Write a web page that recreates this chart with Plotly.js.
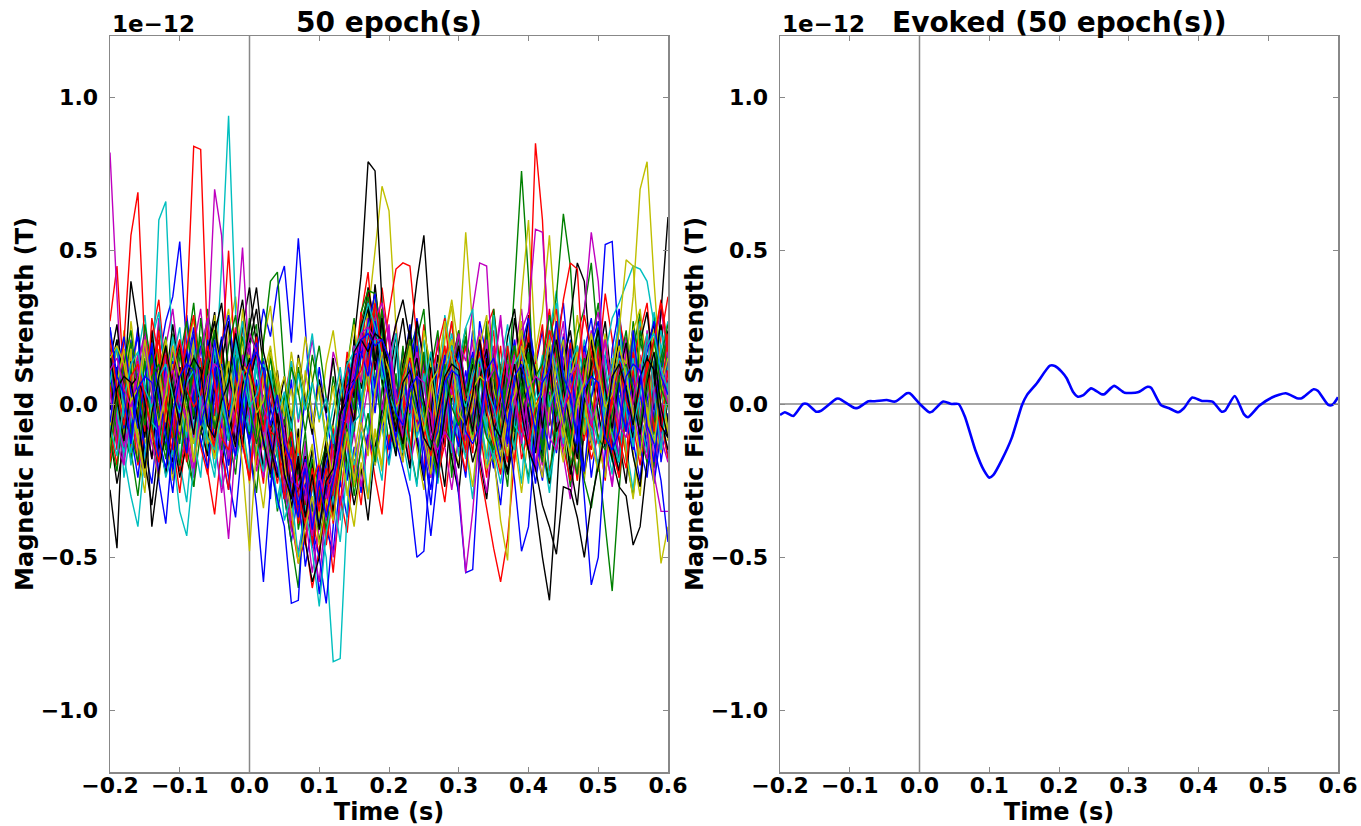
<!DOCTYPE html>
<html>
<head>
<meta charset="utf-8">
<script src="https://cdn.plot.ly/plotly-3.0.1.min.js"></script>
<style>html,body{margin:0;padding:0;background:#fff;}#chart{width:1361px;height:826px;}</style>
</head>
<body>
<div id="chart"></div>
<script>
// Sample times of the epochs (hundredths of a second)
const epochTimesCs = [-20,-19,-18,-17,-16,-15,-14,-13,-12,-11,-10,-9,-8,-7,-6,-5,-4,-3,-2,-1,0,1,2,3,4,5,6,7,8,9,10,11,12,13,14,15,16,17,18,19,20,21,22,23,24,25,26,27,28,29,30,31,32,33,34,35,36,37,38,39,40,41,42,43,44,45,46,47,48,49,50,51,52,53,54,55,56,57,58,59,60];

// 50 single-epoch traces, values in hundredths of 1e-12 T
const epochValues = [
[8,-14,5,21,-3,-22,-9,14,27,35, 53,18,-12,-4,19,7,-16,-28,-6,11, 2,-19,-7,-31,6,-12,8,-20,3,-9, 12,-4,-18,5,-11,-23,-6,-15,9,-3, 14,-8,11,26,4,-13,-33,-10,15,6, -17,2,24,13,-9,-21,5,17,-2,9, 28,12,-15,-6,20,33,8,-11,3,-24, -7,16,4,-19,10,25,-3,-14,7,19, 1],
[-21,-6,12,-15,-30,-9,17,4,-11,23, 10,-18,-27,6,31,15,-4,-20,8,-12, 19,26,-8,-16,-35,-22,-13,-41,-28,-36, -19,-44,-25,-7,12,28,-3,34,21,7, -14,9,-6,18,25,-10,-23,-2,14,-17, 5,22,11,-8,27,16,-12,3,38,76, 41,-6,-19,8,24,-9,-27,-14,6,20, 33,10,-5,15,-18,-30,-11,4,29,13, -8],
[27,45,6,-17,12,-5,22,34,9,-13, -29,-8,16,3,-22,-36,-14,10,25,-3, 14,-11,-26,4,-9,-31,-17,-34,-46,-20, -28,-12,-37,-6,17,3,29,43,16,38, 20,-7,12,-15,4,26,9,-19,-32,-11, 8,19,-5,-21,-34,-47,-58,-44,-18,7, 23,-6,15,31,12,-14,-25,2,18,-9, 13,36,21,-4,-17,9,28,14,-8,22, 35],
[-15,11,-24,-8,16,29,5,60,66,14, -19,-32,-7,21,4,-13,-27,9,18,-6, -23,3,15,-11,-34,-19,-5,-28,-40,-14, -33,-21,-9,-38,-16,12,-4,24,33,15, -2,19,-12,-25,8,21,-6,-17,11,27, 9,-14,-31,-4,17,2,-20,6,-9,-26, 5,16,-3,23,37,11,-10,-22,-5,14, 24,-8,-19,3,-14,-28,-6,11,30,18, -2],
[82,37,-11,6,24,-2,-18,-6,19,31, 12,-9,-24,4,17,-12,-29,-15,8,26, 13,-4,-21,9,-17,2,14,-6,8,21, 5,-3,17,9,-14,-26,-8,6,-19,-3, 10,27,-6,-20,-9,13,-1,22,-14,-28, -10,7,21,-16,-5,12,29,3,-13,18, 6,-21,-8,15,-2,-17,-31,-12,9,24, 4,-15,-26,-7,18,8,-10,23,12,-5, 15],
[13,-8,24,7,-16,-29,2,18,-4,-21, -10,16,28,-1,-15,11,-6,23,35,14, -3,-18,-34,-12,8,-24,-9,-30,-17,-37, -22,-45,-15,3,-10,12,5,29,50,71, 63,25,-3,19,-11,-24,7,-15,21,32, 1,-13,-27,-5,14,30,10,-19,6,27, 11,-7,-20,4,-12,19,-4,-25,-9,15, 22,-11,3,26,9,-16,-30,-2,13,-7, 16],
[-9,-26,-13,14,3,-19,-33,-12,7,26, 9,-5,21,-10,-2,16,-20,-8,3,25, 38,19,-4,-14,6,-22,-9,-34,-27,-15, -37,-24,-6,8,-3,21,42,79,76,33, 6,23,-8,-21,11,-5,17,-12,-27,2, 20,-11,4,-18,-31,-9,13,-4,18,8, 29,-6,-17,12,26,-3,-14,9,-23,-10, 14,27,5,-12,-26,3,-8,16,-2,11, 24],
[19,-4,-17,8,25,2,-11,13,-6,-23, 3,29,10,-14,-3,22,-9,-24,-37,-12, 7,16,31,22,38,45,20,54,25,-8, -27,-13,-35,4,-9,17,-2,11,26,-6, -19,5,-14,9,28,13,-7,-20,4,17, -11,-24,3,15,-6,-18,-33,-8,16,5, -10,12,24,-3,-16,2,21,-7,-22,-4, 10,-13,18,31,6,-12,-25,1,14,-5, -17],
[4,21,-9,-18,-5,14,-7,26,11,-12, -3,17,33,8,-16,-6,13,-10,-23,2, -14,-29,-3,18,-11,-25,-41,-17,-33,-22, -45,-30,-12,-27,9,-4,26,13,32,18, -5,10,-17,-6,21,31,-2,-15,7,-24, 12,25,-8,-19,5,16,-12,-27,4,20, -6,11,-15,19,35,62,45,8,-11,14, 25,-4,-18,6,-8,17,30,-3,-20,-9, 5],
[-17,6,20,55,69,18,-12,3,16,-7, -22,-9,12,-4,24,9,-15,-28,5,13, -6,-20,8,-14,-3,-21,-38,-52,-44,-60, -47,-35,-55,-30,-42,-18,-33,-9,-24,-36, -10,-15,-2,20,-10,-22,8,-6,14,27, -3,-16,11,-8,-24,3,19,-11,5,-18, -9,13,26,-4,-15,7,-9,-25,12,21, 3,-12,9,28,16,-7,-20,-4,11,-13, 2],
[11,-9,3,-20,-7,15,-4,-18,6,22, 9,-14,-2,19,27,5,45,94,30,-9, -22,2,13,-15,-31,-19,-36,-27,-14,-42, -21,-33,-9,-23,-4,11,24,6,17,-8, -20,-5,12,-9,23,8,-13,-26,-7,9, -17,4,16,-3,-21,-9,12,26,8,-11, 18,-2,-14,-29,-8,6,-17,2,21,10, -6,15,-9,-22,-1,14,27,9,-13,3, 19],
[-14,7,-3,19,-9,-22,4,28,13,-6, -19,-10,12,-5,20,70,55,8,-13,2, 17,-7,-24,-11,3,-16,-38,-29,-21,-47, -35,-18,-30,-6,10,-3,19,35,21,9, 26,-8,-19,5,-12,15,2,-21,-9,13, 24,-4,10,-16,-29,-7,6,-14,17,31, 8,-11,-24,1,14,27,-2,-17,5,-8, 18,-13,-27,-6,9,22,-5,11,-19,-4, 14],
[5,18,-6,27,10,-13,-4,16,-9,-25, -11,8,-19,12,3,-16,20,31,7,-10, -26,-2,11,-18,10,-4,17,3,22,8, -6,13,24,6,-12,-27,-15,-30,-9,-22, 11,-9,16,4,-15,-28,-6,9,21,34, 18,56,25,-4,-17,9,-6,14,-13,-29, -10,13,3,20,-7,-19,8,29,11,-3, -22,-8,15,2,-16,-31,-9,10,25,-1, -12],
[-28,-47,4,40,25,-3,-18,7,19,-9, -24,-13,3,-7,17,30,5,-11,22,34, 13,-6,-21,-2,11,-14,-29,-8,-37,-19, -32,-11,-26,3,-8,21,5,14,39,18, -4,15,28,9,-12,-25,-3,16,-6,-18, -29,-5,9,20,-4,-16,11,2,28,12, -9,-21,-2,13,-10,3,-20,-33,-8,17, 6,-14,8,21,-3,-17,-27,-5,12,26, 9],
[-17,2,13,-9,-24,-3,16,5,-14,-29, -6,12,25,-2,-11,9,22,-5,-18,7, 19,-8,3,-21,-12,-30,-45,-28,-53,-39, -62,-41,-48,-25,-37,-14,-29,-8,-20,-4, -15,-1,18,6,-10,-23,-7,13,3,-12, -4,11,-6,27,15,-8,-19,7,21,2, -11,-26,-9,14,-3,10,-13,1,19,6, 18,52,53,17,-6,-15,8,-4,11,-19, -3],
[9,-11,7,20,-4,15,-8,-23,-2,17, 6,-14,-27,-9,13,24,3,-12,8,21, -4,-17,-6,-24,-15,-30,-45,-60,-28,-39, -22,-13,-31,-18,2,-10,16,28,9,-7, 11,-5,19,-14,-26,-6,11,24,-3,-15, 9,22,-9,13,-2,-19,-7,16,5,-13, -24,-4,14,-7,20,-10,6,23,31,46, 19,-3,-15,8,-6,27,12,-8,-21,4, 17],
[6,-15,18,-2,-20,-9,11,24,-5,-17, -8,30,84,83,18,-12,7,-4,16,-13, -25,-6,14,-1,9,-17,-30,-21,-44,-36, -50,-27,-15,-33,-9,5,17,37,12,24, 1,-14,6,-18,15,-3,-11,-24,-9,12, 20,-2,-16,9,25,31,10,-6,-19,4, 16,-7,3,-22,-10,13,-3,19,-8,-15, 21,5,-12,-24,3,14,24,33,8,-5, -18],
[-12,9,-4,12,-9,4,21,30,7,-10, -20,5,-8,14,-5,-21,-9,11,-3,6, -11,16,-6,-19,2,-12,-31,-22,-16,-27, -38,-50,-84,-83,-35,4,-6,16,2,25, 13,-9,4,22,-11,-3,10,-7,29,15, -6,-18,7,-4,11,-15,-26,-10,3,19, -2,-13,12,20,33,9,-4,-17,-2,15, 7,-10,-23,2,-9,21,5,-12,14,24, 10],
[14,-7,-19,5,12,24,3,-10,11,-4, 9,-12,-23,3,-6,7,-14,-3,20,51, 12,-9,10,-14,-23,-4,-26,-36,-12,-45, -58,-33,-9,-21,8,-5,19,8,33,14, -2,-13,9,-6,17,-11,-22,2,-10,19, 3,-12,14,24,-3,19,-1,-14,8,-6, 11,-9,-20,4,-7,23,12,-6,2,21, 30,7,-4,-17,8,-5,16,-11,-24,-3, 11],
[-9,12,-3,18,-10,-22,4,13,-6,15, -8,11,23,-4,6,-17,-8,14,-2,31, 11,-3,-15,9,-6,2,-22,-14,-29,-37, -26,-43,-20,-6,14,-3,29,10,36,17, 5,-9,14,22,-3,-14,10,-4,19,-11, -20,2,-10,-1,-21,-16,-38,-51,-3,35, 60,18,-6,-15,7,-2,14,-12,-25,-3, 10,23,2,-10,13,24,31,9,-7,-16, 5],
[14,26,3,-9,10,-2,21,-11,-23,-6, 12,3,16,-8,-17,4,13,27,2,-13, 9,23,-4,-10,-4,9,-7,16,2,-10, 8,-3,15,-6,-19,-33,-21,-38,-14,-2, 16,26,34,21,40,55,22,-2,-14,9, 17,-6,-19,-10,3,12,-5,19,-9,1, 21,-3,-14,-26,-5,14,24,6,-10,13, 20,-1,-13,-22,6,-8,20,30,9,-5, -15],
[10,-3,12,-8,6,-15,-26,-4,13,5, 21,-7,9,19,3,-12,6,-20,-3,16, -14,-33,-58,-27,-8,-30,-24,-37,-20,-41, -50,-65,-40,-12,-25,11,-3,20,5,29, 10,-8,3,21,-4,-15,-28,-9,14,2, 17,-6,11,-13,23,8,-9,-18,6,15, -2,-14,-25,-4,9,22,-5,-16,8,19, 27,6,-8,-19,4,13,-3,-14,-26,-9, 8],
[18,5,-14,9,-3,26,12,-7,-18,4, 15,27,3,-10,11,-5,20,-8,-16,9, 28,14,-5,-17,7,-16,-9,-24,-33,-18, -27,-14,-36,-21,-3,17,1,14,30,7, -6,-15,9,-4,16,-12,-24,3,-9,21, 11,-2,13,-11,26,-6,-18,4,-9,24, 14,-7,-19,3,-11,6,-20,-12,-25,-34, -18,-40,-61,-28,2,-9,21,10,-6,13, 22],
[-7,-20,5,16,-6,22,11,-3,21,-12, -4,-19,9,15,-5,-14,15,50,12,-9, 7,20,-6,-14,-26,-11,-30,-19,-41,-27, -33,-17,-28,-4,11,-2,24,9,27,16, 30,44,46,45,21,-3,-16,8,19,-7, -12,-22,6,-5,13,24,-9,4,18,-8, -15,10,-3,21,31,4,-13,8,-5,-18, -10,-25,3,12,-8,17,-6,9,21,34, 19],
[17,-2,-16,-6,12,-9,20,5,-12,14, 25,2,-11,-24,3,-8,13,-4,-18,-10, -3,15,-5,-20,6,-19,-28,-15,-37,-25, -41,-22,-31,-8,6,19,3,-10,21,11, -4,-17,7,-6,17,-2,-21,-9,12,23, 4,-10,14,-3,-18,-4,-22,6,19,8, 13,-9,2,23,-6,4,-15,19,9,-12, 2,16,28,33,39,45,44,40,26,5, -9],
[-13,4,17,-2,-14,-24,1,13,-5,11, -10,7,19,31,8,-6,-17,6,-7,11, -4,-22,-11,5,-10,-27,-41,-48,-36,-55, -40,-28,-50,-33,-22,-9,-27,-12,2,14, 24,-3,-13,10,2,16,-10,-22,-1,12, 20,14,31,46,45,6,-9,13,-1,17, -10,-20,4,-6,25,14,-7,10,-2,-12, -3,-23,-9,11,22,-2,-14,9,19,31, 15],
[22,3,-11,10,-1,18,-12,-25,-2,9, 21,-6,-13,10,-3,29,10,-5,-16,4, 16,-9,-2,-23,-11,-26,-17,-33,-22,-13, -38,-18,-7,-19,12,26,7,32,14,22, -3,-14,5,17,-9,-2,-22,-10,11,2, 13,-9,-1,21,-7,-13,9,19,-3,14, 2,17,30,55,22,-6,-17,8,-4,15, -12,-24,-3,10,-7,14,1,-10,21,9, -11],
[-2,12,-7,14,1,-11,24,6,-9,-19, 3,17,-5,12,-13,9,21,-2,-12,10, 20,31,12,-8,-1,-25,-18,-37,-27,-46, -30,-16,-25,-5,14,2,22,38,25,8, -6,-17,9,-3,27,14,-7,-18,4,13, 23,2,-10,12,-4,8,-14,-23,-11,7, -15,-33,-50,-64,-31,9,27,46,40,12, -3,-14,5,16,-2,-11,8,19,26,7, -6],
[25,6,-8,13,22,-4,3,-18,-5,14, -4,-16,5,-9,21,11,-8,9,22,-2, -11,8,-13,-21,-31,-40,-65,-64,-27,-41, -19,-32,-12,-24,6,-8,26,15,-3,20, 9,-12,-21,-30,-50,-48,-17,3,16,-5, -14,7,17,-3,19,5,-15,8,-6,11, -3,-22,-11,10,-4,20,1,-10,17,28, 8,-5,-16,7,-9,10,-14,-24,-2,12, 20],
[-11,-22,1,12,-6,14,-9,10,22,-1, -13,9,-4,28,8,-7,-15,7,16,-3, -10,6,-7,10,-14,3,-9,12,-2,16, 4,-11,9,-5,-22,-7,30,37,36,23, 10,-3,-12,7,18,-2,-13,-22,3,12, 24,1,-11,10,-3,31,10,-4,-15,4, 16,-2,-13,-25,-1,11,-8,13,-9,9, 22,3,-9,-19,5,-6,24,12,-10,11, 21],
[9,19,-3,-12,8,-6,28,15,-4,-16, 7,-5,11,-14,-23,-2,12,-8,14,-9, 3,22,-1,-10,-22,-18,-30,-11,-35,-26, -19,-46,-29,-16,4,-7,23,4,17,31, 11,-2,-13,7,-6,11,-3,-23,-13,8, 22,3,-9,12,-1,13,-7,-19,5,16, 20,85,60,12,-9,2,20,-4,-12,10, 19,-2,-15,-24,-2,11,-5,14,-9,2, 23],
[14,-3,-17,-30,-40,-16,-1,11,-5,12, 0,-11,20,-3,-14,-24,2,-9,21,3, -9,12,-4,11,-11,-2,14,-5,9,23, 4,-13,-1,12,-6,-20,-9,-31,-14,-25, 6,-7,-16,8,-5,10,-13,-25,2,13, 21,-2,-12,9,-9,29,6,-5,-15,10, 7,-5,3,-24,-12,11,-3,14,-10,2, 23,4,-10,-19,3,15,-4,-16,6,18, 27],
[17,-6,-14,5,16,-2,-13,-23,2,-9, 21,10,-11,9,-3,8,-20,-44,-13,11, 20,-3,-11,-22,2,-26,-18,-36,-30,-42, -27,-38,-13,-2,-12,19,7,28,17,-2, 12,-11,9,-3,19,-13,-24,-2,11,3, 14,-8,10,-6,21,-9,-20,4,-5,24, 30,57,56,16,-3,-14,7,-7,17,-2, -22,-1,11,-9,19,3,-7,24,3,-11, -19],
[-15,5,-4,18,-12,-24,-2,11,-6,13, 2,-9,21,10,-13,-4,-11,13,-2,22, 3,-8,21,32,9,-4,5,-16,11,-3, -20,-8,6,-14,-28,-40,-19,-31,-8,-20, 15,-9,-19,4,-5,24,12,-10,2,21, 11,-3,-12,19,29,5,-5,-17,8,-2, 9,-14,-24,-1,12,21,-6,4,-10,22, 10,-11,7,17,13,35,70,79,40,8, -9],
[11,21,-3,-11,9,-5,19,-13,-22,2, 12,-4,14,-9,11,23,33,10,-3,-14, 7,17,-2,-14,-24,-5,-31,-28,-17,-43, -31,-12,-35,-20,4,-6,24,31,11,27, 5,-8,13,24,2,-10,12,-2,10,-12, -21,2,13,-6,15,-10,2,22,31,9, -3,-16,5,17,-9,-2,-23,-11,12,21, 2,-9,-18,-27,-30,-46,-40,-19,5,30, 61],
[9,19,-2,-11,10,-1,20,-25,-39,-12, 8,18,1,-12,-21,3,13,-5,14,-10, 11,20,-1,-12,-21,-31,-12,-37,-26,-45, -30,-19,-9,-24,13,5,16,26,36,13, 1,-11,9,-2,19,-12,-23,-1,11,-10, -30,-55,-54,-16,7,-3,9,-13,6,19, 28,8,-5,-15,7,-4,18,-13,-22,2, 11,-5,13,1,-9,24,3,-9,-19,5, 15],
[16,-1,13,-9,-19,3,16,-3,-15,5, 18,-3,15,-8,13,24,-2,-10,10,22, 11,-11,20,40,43,10,-16,-25,-9,-35, -28,-41,-22,-11,9,-2,27,35,14,31, 9,-4,-15,6,-3,17,-14,-24,-2,11, 22,2,-10,11,-2,12,-11,9,19,-1, 17,-5,-15,7,-4,10,-13,-23,-1,12, 21,3,-9,12,24,3,-10,-19,4,15, 26],
[-19,2,13,-3,14,-9,11,21,-1,-11, 9,19,29,6,-6,-16,8,-2,9,-13, -24,-1,11,-9,-11,-31,-14,-39,-21,-46, -26,-35,-8,-18,13,10,30,12,32,15, 3,-9,11,21,-1,-11,9,19,28,6, -6,-15,8,17,-2,-13,-23,-1,12,21, 2,-10,12,24,15,34,46,44,6,-9, 11,21,1,-11,-21,2,13,23,3,-9, 11],
[7,19,-4,-16,3,21,-6,-9,-24,-15, -35,-43,-20,4,-7,18,5,-12,14,27, 1,-13,-22,8,-17,-38,-29,-50,-33,-48, -66,-42,-30,-45,-21,-6,-3,25,33,8, 12,23,-5,-14,-27,6,17,-2,9,-16, 14,25,31,2,-10,-18,8,20,-7,-11, -26,3,16,-1,6,-13,13,19,-4,-8, -21,5,12,28,-2,-14,9,23,4,-15, 7],
[4,-13,-20,-2,13,22,6,-11,9,19, 2,-4,6,17,28,7,-5,-18,-4,16, 8,-14,-2,-21,-9,-15,-34,-23,-28,-43, -22,-37,-26,-5,-6,14,23,8,28,33, 21,3,-11,8,17,1,-3,-20,-7,12, 23,4,-9,11,19,-2,-13,6,16,-1, -13,-22,-3,10,20,5,-8,9,30,56, 40,8,-8,11,20,3,-8,-18,4,12, -1],
[-10,7,18,-1,-12,-22,-2,10,21,3, -9,10,22,5,-7,-18,1,14,-1,-20, -48,-14,9,19,2,9,-4,15,3,-8, 6,-12,-25,-10,-30,-16,-3,11,-20,-7, 3,-10,8,19,-2,-11,-23,-1,12,21, 4,-8,10,22,3,-9,-17,3,13,24, 4,-7,8,19,2,-11,9,17,1,-12, -22,-3,10,24,47,45,13,-3,-13,6, 15],
[16,2,-12,6,9,1,-40,-22,-9,10, 20,2,-10,8,17,27,8,-4,-14,6, 15,-1,-12,-23,-3,-14,-34,-19,-45,-58, -50,-27,-24,-4,6,8,25,33,14,28, 9,-4,-13,6,15,1,-11,-21,-3,9, 19,3,-9,8,18,-1,-12,-22,-2,9, 20,11,-8,9,21,5,-7,-18,1,13, 24,5,-8,9,20,2,-10,7,17,-1, -11],
[-6,11,22,4,-8,9,19,2,-10,-21, -1,11,23,5,-7,10,19,29,10,-2, -13,3,14,-1,-11,-21,-29,-37,-18,-33, -39,-27,-23,-11,5,16,17,9,27,13, 1,-11,5,15,-1,-11,-15,-9,9,19, 5,-7,9,19,2,-9,-19,-7,-25,-48, -40,-10,9,19,4,-7,10,-2,-30,-59, -50,-15,7,17,3,-9,7,17,27,9, 3],
[-16,1,13,24,5,-7,9,13,3,-9, -20,-2,11,22,4,-8,2,19,29,11, -1,-13,-3,15,1,-7,12,4,-9,7, 19,2,-12,-24,-8,-30,-14,-3,-19,5, 13,-5,11,21,5,-1,-17,-5,13,-1, -7,3,15,-1,-11,-15,-3,9,19,5, -1,9,13,29,17,-1,-13,3,15,1, -11,-15,-3,9,13,5,-7,9,21,5, -1],
[21,5,-7,9,13,3,-9,-19,-1,11, 21,5,-1,3,19,7,-11,-15,-3,9, 13,3,-9,7,-11,-17,-9,-29,-39,-21, -35,-21,-39,-15,-3,7,11,21,33,17, 11,-1,9,15,5,-7,-17,-5,7,17, 13,1,5,21,11,-7,3,19,3,-9, -13,-1,5,21,11,-1,3,13,29,17, 5,-13,3,15,1,-5,5,11,21,33, 17],
[-7,-17,1,13,17,5,-1,9,13,3, -3,7,11,1,-11,-15,-3,9,19,11, -1,3,13,9,-3,4,-8,10,-2,7, -5,2,-13,3,13,17,23,33,25,15, 3,-3,7,11,1,-5,-15,-3,9,19, 5,-1,9,15,5,-1,-11,1,13,17, 7,1,5,21,11,-1,9,13,3,-3, -13,-1,5,15,11,-7,3,19,23,11, 5],
[11,15,5,-1,9,19,3,-9,7,11, 1,-5,-21,-3,9,13,11,-7,3,13, 23,17,-1,-7,3,-9,-25,-27,-19,-39, -23,-31,-23,-11,5,9,23,25,21,21, 15,3,-7,5,9,7,-11,-15,-9,-13, -27,-55,-35,-9,7,11,27,9,3,-13, 5,9,7,-11,-15,-3,9,13,5,-7, 3,21,5,-7,-11,1,13,-7,-23,-35, -35],
[15,19,13,1,5,21,5,-7,3,19, 9,-3,-19,-7,5,21,11,-7,3,13, 9,-3,1,17,7,-20,-35,-52,-40,-30, -46,-31,-38,-22,-9,-25,-6,-17,4,17, 11,-1,3,19,3,-9,7,11,27,15, -3,-7,5,9,7,-11,-21,-3,3,19, 11,-1,3,21,5,-7,-17,1,7,23, 11,-1,3,19,9,-3,-17,-1,-27,-52, -40],
[-11,5,9,7,-5,-21,-3,9,19,5, -7,9,15,11,-7,-11,1,7,23,11, 25,38,17,7,-5,-23,-31,-17,-37,-23, -41,-25,-21,-3,1,17,21,17,23,21, 3,-9,7,11,1,-11,-15,-3,9,13, 11,-7,3,21,5,-7,-11,1,13,-3, -15,-21,-33,-40,-49,-27,-28,-37,-50,-32, -21,-9,9,13,5,-7,9,15,11,-7, -11],
[25,9,3,-13,5,9,7,-11,-21,-3, 9,13,11,-7,3,21,5,-7,-17,1, 13,17,11,-7,3,-13,-19,-33,-21,-41, -25,-37,-25,-13,3,7,21,23,19,21, 15,-3,-7,5,9,-23,-43,-22,7,11, 9,-9,-13,-7,11,15,5,-7,9,13, 3,-9,7,11,27,9,3,-13,5,9, 7,-11,-15,-9,9,13,11,-7,-13,-25, -45]
];

// Evoked (average) response: times in ms, values in thousandths of 1e-12 T
const evokedTimesMs = [-200,-193,-181,-167,-161,-148,-142,-119,-115,-93,-88,-73,-64,-47,-35,-18,-14,1,14,18,34,46,56,65,80,92,100,106,118,132,147,154,168,187,194,204,211,220,227,235,246,261,265,279,294,313,327,332,346,358,371,379,391,405,420,433,438,452,465,471,487,506,525,541,548,565,571,586,592,600];
const evokedValues = [-36,-27,-39,0,0,-25,-23,17,17,-13,-12,9,9,13,8,35,35,-1,-27,-25,8,0,0,-41,-150,-215,-240,-231,-182,-112,-3,29,67,125,124,105,84,40,24,29,51,32,32,59,37,38,56,53,-3,-14,-27,-14,21,10,8,-25,-22,26,-33,-43,-6,22,35,19,19,48,43,-3,-3,22];

const xTickVals = [-0.2,-0.1,0.0,0.1,0.2,0.3,0.4,0.5,0.6];
const yTickVals = [-1.0,-0.5,0.0,0.5,1.0];
const colorCycle = ['#0000ff','#008000','#ff0000','#00bfbf','#bf00bf','#bfbf00','#000000'];

const tSec = epochTimesCs.map(v => v / 100);
const traces = epochValues.map((vals, i) => ({
  type: 'scatter', mode: 'lines',
  x: tSec.slice(0, vals.length), y: vals.map(v => v / 100),
  xaxis: 'x', yaxis: 'y',
  line: {color: colorCycle[i % colorCycle.length], width: 1.4},
  hoverinfo: 'skip', showlegend: false
}));
traces.push({
  type: 'scatter', mode: 'lines',
  x: evokedTimesMs.map(v => v / 1000), y: evokedValues.map(v => v / 1000),
  xaxis: 'x2', yaxis: 'y2',
  line: {color: '#0000ff', width: 2.6, shape: 'spline', smoothing: 0.6},
  showlegend: false
});

const FONT = 'DejaVu Sans, Liberation Sans, sans-serif';
const W = 1361, H = 826;
const M = {l: 110, r: 23, t: 36, b: 54};
const PW = W - M.l - M.r;

function xAxis(dom, anchor) {
  return {
    domain: dom, anchor: anchor, range: [-0.2, 0.6],
    tickvals: xTickVals, tickformat: '.1f',
    ticks: 'inside', ticklen: 5, tickwidth: 1, tickcolor: '#888',
    showline: true, linecolor: '#888', linewidth: 1.5, mirror: 'ticks',
    showgrid: false, zeroline: false, ticklabelstandoff: -7,
    tickfont: {family: FONT, size: 22, color: '#000', weight: 'bold'},
    title: {text: 'Time (s)', font: {family: FONT, size: 24, color: '#000', weight: 'bold'}, standoff: 0}
  };
}
function yAxis(anchor) {
  return {
    domain: [0, 1], anchor: anchor, range: [-1.2, 1.2],
    tickvals: yTickVals, tickformat: '.1f',
    ticks: 'inside', ticklen: 5, tickwidth: 1, tickcolor: '#888',
    showline: true, linecolor: '#888', linewidth: 1.5, mirror: 'ticks',
    showgrid: false, zeroline: false, ticklabelstandoff: 6,
    tickfont: {family: FONT, size: 22, color: '#000', weight: 'bold'},
    title: {text: 'Magnetic Field Strength (T)', font: {family: FONT, size: 24, color: '#000', weight: 'bold'}, standoff: 0}
  };
}

const shapes = [];
[['x', 'y'], ['x2', 'y2']].forEach(([xa, ya]) => {
  shapes.push({type: 'line', layer: 'below', xref: xa, yref: ya + ' domain', x0: 0, x1: 0, y0: 0, y1: 1, line: {color: '#888', width: 1.5}});
  shapes.push({type: 'line', layer: 'below', xref: xa + ' domain', yref: ya, x0: 0, x1: 1, y0: 0, y1: 0, line: {color: '#888', width: 1.5}});
});

const annFont = {family: FONT, color: '#000', weight: 'bold'};
const annotations = [
  {xref: 'x domain', yref: 'y domain', x: 0, y: 1, xanchor: 'left', yanchor: 'bottom', showarrow: false, text: '1e\u221212', font: Object.assign({size: 23}, annFont), yshift: -3},
  {xref: 'x2 domain', yref: 'y2 domain', x: 0, y: 1, xanchor: 'left', yanchor: 'bottom', showarrow: false, text: '1e\u221212', font: Object.assign({size: 23}, annFont), yshift: -3},
  {xref: 'x domain', yref: 'y domain', x: 0.5, y: 1, xanchor: 'center', yanchor: 'bottom', showarrow: false, text: '50 epoch(s)', font: Object.assign({size: 28}, annFont), yshift: -5},
  {xref: 'x2 domain', yref: 'y2 domain', x: 0.5, y: 1, xanchor: 'center', yanchor: 'bottom', showarrow: false, text: 'Evoked (50 epoch(s))', font: Object.assign({size: 28}, annFont), yshift: -5}
];

const layout = {
  width: W, height: H,
  margin: M,
  paper_bgcolor: '#fff', plot_bgcolor: '#fff',
  showlegend: false,
  xaxis: xAxis([0, 558 / PW], 'y'),
  yaxis: yAxis('x'),
  xaxis2: xAxis([670 / PW, 1], 'y2'),
  yaxis2: yAxis('x2'),
  shapes: shapes,
  annotations: annotations
};

Plotly.newPlot('chart', traces, layout, {staticPlot: true, displayModeBar: false});
</script>
</body>
</html>
